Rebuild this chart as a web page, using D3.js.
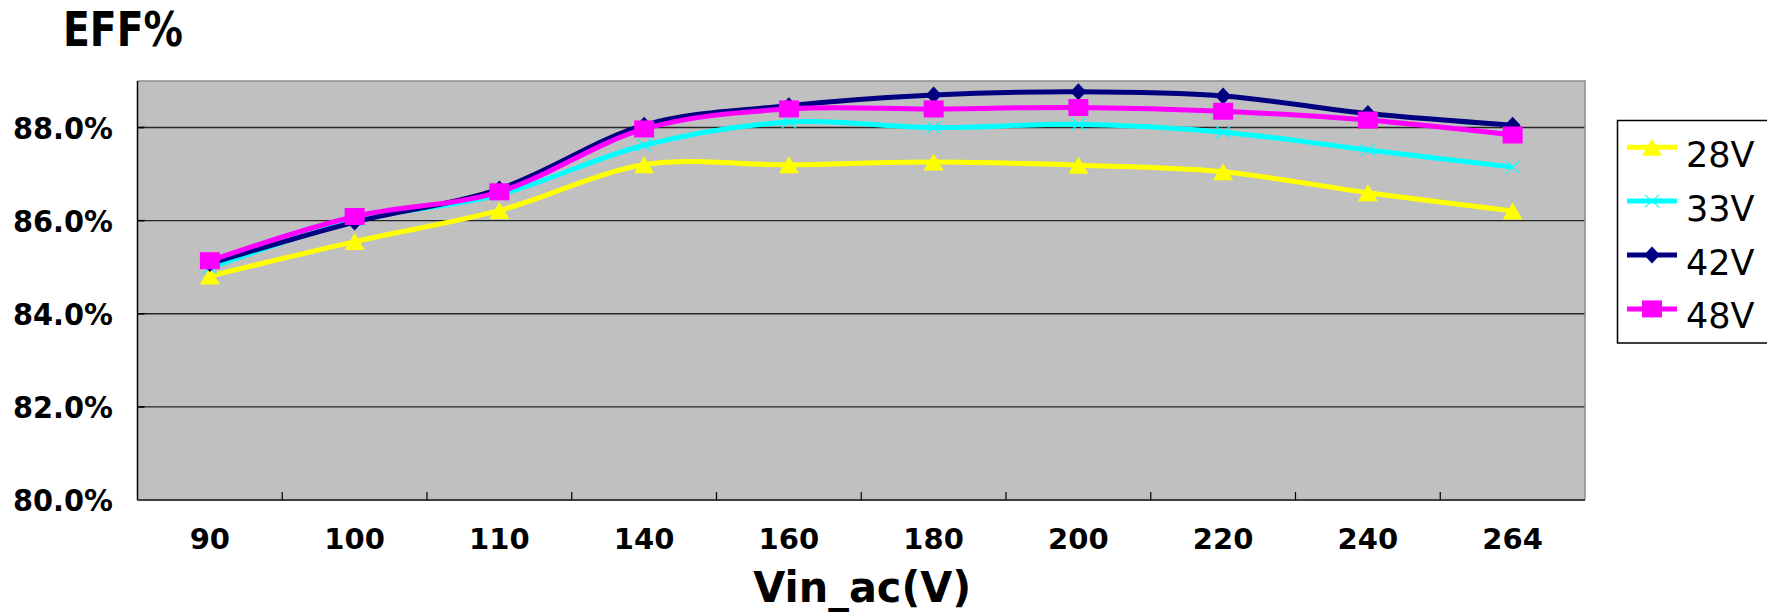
<!DOCTYPE html>
<html>
<head>
<meta charset="utf-8">
<script src="https://cdn.jsdelivr.net/npm/d3@7/dist/d3.min.js"></script>
<style>
  html, body { margin: 0; padding: 0; background: #fff; }
  svg { display: block; }
</style>
</head>
<body>
<svg id="chart" width="1767" height="612"></svg>
<script>
// ---- data ----
const categories = ["90", "100", "110", "140", "160", "180", "200", "220", "240", "264"];
const seriesNames = ["28V", "33V", "42V", "48V"];
const v28 = [84.81, 85.55, 86.22, 87.20, 87.20, 87.26, 87.19, 87.05, 86.60, 86.21];
const v33 = [84.99, 86.00, 86.56, 87.62, 88.12, 88.00, 88.07, 87.90, 87.52, 87.15];
const v42 = [85.08, 85.97, 86.68, 88.05, 88.47, 88.70, 88.77, 88.68, 88.30, 88.05];
const v48 = [85.14, 86.09, 86.62, 87.97, 88.40, 88.40, 88.43, 88.35, 88.16, 87.84];
const yTicks = [80, 82, 84, 86, 88];
const yTickLabels = ["80.0%", "82.0%", "84.0%", "86.0%", "88.0%"];
const titleText = "EFF%";
const xTitleText = "Vin_ac(V)";

const seriesValues = [v28, v33, v42, v48];
const seriesColors = ["#FFFF00", "#00FFFF", "#000080", "#FF00FF"];
const seriesMarkers = ["triangle", "x", "diamond", "square"];

// ---- layout ----
const plot = { left: 137.5, right: 1585, top: 81, bottom: 500 };
const svg = d3.select("#chart");

const x = d3.scaleBand().domain(categories).range([plot.left, plot.right]);
const y = d3.scaleLinear().domain([80, 89]).range([plot.bottom, plot.top]);
const cx = c => x(c) + x.bandwidth() / 2;

// plot background
svg.append("rect")
  .attr("x", plot.left).attr("y", plot.top)
  .attr("width", plot.right - plot.left).attr("height", plot.bottom - plot.top)
  .attr("fill", "#C0C0C0");

// gridlines
svg.append("g").selectAll("line").data(yTicks.filter(t => t > 80)).join("line")
  .attr("x1", plot.left).attr("x2", plot.right)
  .attr("y1", d => y(d)).attr("y2", d => y(d))
  .attr("stroke", "#262626").attr("stroke-width", 1.4);

// top & right border (gray)
svg.append("path")
  .attr("d", `M${plot.left},${plot.top}H${plot.right}V${plot.bottom}`)
  .attr("fill", "none").attr("stroke", "#8c8c8c").attr("stroke-width", 1.5);

// y-axis inner ticks
svg.append("g").selectAll("line").data(yTicks).join("line")
  .attr("x1", plot.left).attr("x2", plot.left + 7)
  .attr("y1", d => y(d)).attr("y2", d => y(d))
  .attr("stroke", "#000").attr("stroke-width", 1.6);

// left axis line
svg.append("line")
  .attr("x1", plot.left).attr("x2", plot.left)
  .attr("y1", plot.top).attr("y2", plot.bottom)
  .attr("stroke", "#000").attr("stroke-width", 1.5);

// bottom axis line
svg.append("line")
  .attr("x1", plot.left).attr("x2", plot.right)
  .attr("y1", plot.bottom).attr("y2", plot.bottom)
  .attr("stroke", "#404040").attr("stroke-width", 2);

// x ticks at band boundaries (inside)
svg.append("g").selectAll("line").data(categories.slice(1)).join("line")
  .attr("x1", d => x(d)).attr("x2", d => x(d))
  .attr("y1", plot.bottom - 8).attr("y2", plot.bottom)
  .attr("stroke", "#000").attr("stroke-width", 1.2);

// y labels
svg.append("g").selectAll("text").data(yTicks).join("text")
  .attr("x", 113).attr("y", d => y(d) + 11)
  .attr("text-anchor", "end")
  .attr("font-family", "DejaVu Sans, sans-serif")
  .attr("font-weight", "bold").attr("font-size", 31)
  .attr("textLength", 100).attr("lengthAdjust", "spacingAndGlyphs")
  .text((d, i) => yTickLabels[i]);

// x labels
svg.append("g").selectAll("text").data(categories).join("text")
  .attr("x", d => cx(d)).attr("y", 549)
  .attr("text-anchor", "middle")
  .attr("font-family", "DejaVu Sans, sans-serif")
  .attr("font-weight", "bold").attr("font-size", 29)
  .text(d => d);

// title
svg.append("text")
  .attr("x", 63).attr("y", 45.5)
  .attr("font-family", "DejaVu Sans, sans-serif")
  .attr("font-weight", "bold").attr("font-size", 48)
  .attr("textLength", 120).attr("lengthAdjust", "spacingAndGlyphs")
  .text(titleText);

// x title
svg.append("text")
  .attr("x", (plot.left + plot.right) / 2 + 1).attr("y", 602)
  .attr("text-anchor", "middle")
  .attr("font-family", "DejaVu Sans, sans-serif")
  .attr("font-weight", "bold").attr("font-size", 43)
  .attr("textLength", 218).attr("lengthAdjust", "spacingAndGlyphs")
  .text(xTitleText);

// marker drawing
function drawMarker(g, type, px, py, color) {
  if (type === "triangle") {
    g.append("path")
      .attr("d", `M${px},${py - 8.5}L${px + 10},${py + 8.5}L${px - 10},${py + 8.5}Z`)
      .attr("fill", color);
  } else if (type === "square") {
    g.append("rect")
      .attr("x", px - 10).attr("y", py - 8.5).attr("width", 20).attr("height", 17)
      .attr("fill", color);
  } else if (type === "diamond") {
    g.append("path")
      .attr("d", `M${px},${py - 8.5}L${px + 8},${py}L${px},${py + 8.5}L${px - 8},${py}Z`)
      .attr("fill", color);
  } else if (type === "x") {
    g.append("path")
      .attr("d", `M${px - 7},${py - 6}L${px + 7},${py + 6}M${px - 7},${py + 6}L${px + 7},${py - 6}`)
      .attr("stroke", color).attr("stroke-width", 1.2).attr("fill", "none");
  }
}

// series
const line = d3.line()
  .x((d, i) => cx(categories[i]))
  .y(d => y(d))
  .curve(d3.curveCatmullRom.alpha(0));

seriesValues.forEach((vals, s) => {
  const g = svg.append("g");
  g.append("path")
    .datum(vals)
    .attr("d", line)
    .attr("fill", "none")
    .attr("stroke", seriesColors[s])
    .attr("stroke-width", 5)
    .attr("stroke-linejoin", "round");
  vals.forEach((v, i) => drawMarker(g, seriesMarkers[s], cx(categories[i]), y(v), seriesColors[s]));
});

// legend
const legend = svg.append("g");
legend.append("rect")
  .attr("x", 1617.5).attr("y", 120.5).attr("width", 200).attr("height", 222.5)
  .attr("fill", "#fff").attr("stroke", "#000").attr("stroke-width", 1.5);

seriesNames.forEach((name, s) => {
  const base = 166.7 + s * 53.9;
  const ly = base - 19.5;
  legend.append("line")
    .attr("x1", 1627).attr("x2", 1677).attr("y1", ly).attr("y2", ly)
    .attr("stroke", seriesColors[s]).attr("stroke-width", 5);
  drawMarker(legend, seriesMarkers[s], 1652, ly, seriesColors[s]);
  legend.append("text")
    .attr("x", 1686).attr("y", base)
    .attr("font-family", "DejaVu Sans, sans-serif")
    .attr("font-size", 35)
    .text(name);
});
</script>
</body>
</html>
